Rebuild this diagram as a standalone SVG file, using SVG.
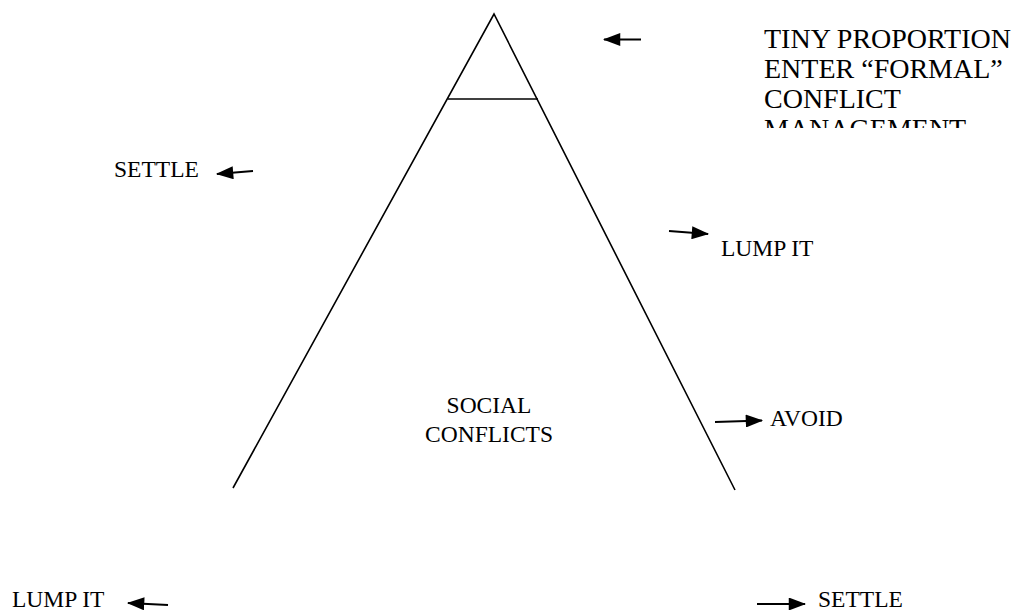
<svg xmlns="http://www.w3.org/2000/svg" width="1014" height="610" viewBox="0 0 1014 610">
<style>
text{font-family:"Liberation Serif","Times New Roman",Times,serif;font-size:23.5px;fill:#000}
.big{font-size:28px}
.ln{stroke:#000;stroke-width:1.6;fill:none}
.ar{stroke:#000;stroke-width:2;fill:none}
</style>
<defs>
<marker id="ah" markerUnits="userSpaceOnUse" markerWidth="18" markerHeight="13" viewBox="0 0 16 12" refX="15" refY="6" orient="auto">
<path d="M0,0 L16,6 L0,12 Z" fill="#000"/>
</marker>
<clipPath id="clipTop"><rect x="700" y="0" width="314" height="128"/></clipPath>
</defs>
<rect width="1014" height="610" fill="#fff"/>
<g id="pyramid">
<path class="ln" d="M233,488 L494,14 L735,490"/>
<line class="ln" x1="448" y1="99" x2="538" y2="99"/>
</g>
<g id="connectors">
<line class="ar" x1="641" y1="39.5" x2="604" y2="39.5" marker-end="url(#ah)"/>
<line class="ar" x1="253" y1="171" x2="217" y2="174" marker-end="url(#ah)"/>
<line class="ar" x1="669" y1="231" x2="708" y2="234" marker-end="url(#ah)"/>
<line class="ar" x1="715" y1="422" x2="762" y2="420.5" marker-end="url(#ah)"/>
<line class="ar" x1="168" y1="605" x2="128" y2="603" marker-end="url(#ah)"/>
<line class="ar" x1="757" y1="604" x2="805" y2="604" marker-end="url(#ah)"/>
</g>
<g id="formal" clip-path="url(#clipTop)">
<text class="big" x="764" y="48">TINY PROPORTION</text>
<text class="big" x="764" y="78">ENTER “FORMAL”</text>
<text class="big" x="764" y="108">CONFLICT</text>
<text class="big" x="764" y="138">MANAGEMENT</text>
</g>
<g id="settle-left"><text x="114" y="177">SETTLE</text></g>
<g id="lumpit-right"><text x="721" y="256">LUMP IT</text></g>
<g id="social">
<text x="489" y="413" text-anchor="middle">SOCIAL</text>
<text x="489" y="442" text-anchor="middle">CONFLICTS</text>
</g>
<g id="avoid"><text x="770" y="426">AVOID</text></g>
<g id="lumpit-bottom"><text x="12" y="607">LUMP IT</text></g>
<g id="settle-bottom"><text x="818" y="607">SETTLE</text></g>
</svg>
